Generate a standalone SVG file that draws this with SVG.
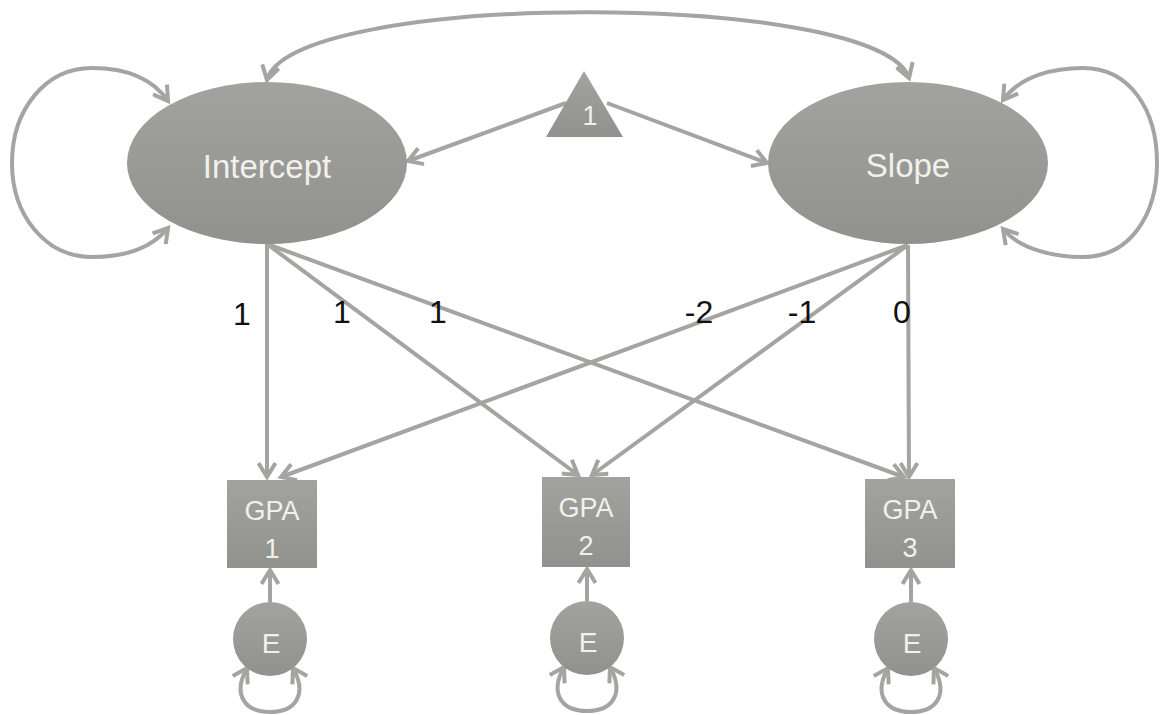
<svg xmlns="http://www.w3.org/2000/svg" width="1160" height="715" viewBox="0 0 1160 715">
  <style>
    .node { fill: url(#shade); }
    .lbl { font-family: "Liberation Sans", Arial, sans-serif; fill: #f1f1ec; text-anchor: middle; }
    .coef { font-family: "Liberation Sans", Arial, sans-serif; fill: #111; font-size: 32px; text-anchor: middle; }
    .edge { fill: none; stroke: #a4a4a0; stroke-width: 4; }
    .one { marker-end: url(#head); }
    .two { marker-start: url(#head); marker-end: url(#head); }
  </style>
  <defs>
    <linearGradient id="shade" x1="0" y1="0" x2="0" y2="1">
      <stop offset="0" stop-color="#a2a29e"/>
      <stop offset="1" stop-color="#91918d"/>
    </linearGradient>
    <marker id="head" viewBox="0 0 20 20" markerWidth="20" markerHeight="20" refX="16" refY="10" markerUnits="userSpaceOnUse" orient="auto-start-reverse">
      <path d="M2,1.5 L16,10 L2,18.5" fill="none" stroke="#a4a4a0" stroke-width="4" stroke-linejoin="miter"/>
    </marker>
  </defs>

  <rect width="1160" height="715" fill="#ffffff"/>

  <g id="connectors">
    <!-- covariance between the growth factors -->
    <path class="edge two" d="M267,80 C290,-10 880,-10 909,78"/>
    <!-- variances of the growth factors -->
    <path class="edge two" d="M168,101 C150,75 120,68 92,68 C45,68 12,110 12,163 C12,215 45,257 92,257 C120,257 150,250 168,228"/>
    <path class="edge two" d="M1003,100 C1021,75 1055,68 1083,68 C1130,68 1157,110 1157,163 C1157,215 1130,257 1083,257 C1055,257 1021,250 1003,229"/>
    <!-- constant to means -->
    <path class="edge one" d="M566,103 L408,161"/>
    <path class="edge one" d="M607,103 L767,163"/>
    <!-- intercept loadings -->
    <path class="edge one" d="M267,244 L267,477"/>
    <path class="edge one" d="M267,244 L578,475"/>
    <path class="edge one" d="M267,244 L904,477"/>
    <!-- slope loadings -->
    <path class="edge one" d="M908,245 L281,477"/>
    <path class="edge one" d="M908,245 L592,475"/>
    <path class="edge one" d="M908,245 L909,477"/>
    <!-- residuals -->
    <path class="edge one" d="M270,602 L270,570"/>
    <path class="edge one" d="M587,601 L587,569"/>
    <path class="edge one" d="M911,602 L911,570"/>
    <path class="edge two" d="M247,668 C232,695 245,712 270,712 C295,712 308,695 293,668"/>
    <path class="edge two" d="M564,667 C549,694 562,711 587,711 C612,711 625,694 610,667"/>
    <path class="edge two" d="M888,668 C873,695 886,712 911,712 C936,712 949,695 934,668"/>
  </g>

  <g id="coefficients">
    <text class="coef" x="242" y="325">1</text>
    <text class="coef" x="342" y="323">1</text>
    <text class="coef" x="438" y="323">1</text>
    <text class="coef" x="699" y="323">-2</text>
    <text class="coef" x="802" y="323">-1</text>
    <text class="coef" x="902" y="323">0</text>
  </g>

  <g id="intercept">
    <ellipse class="node" cx="267" cy="163" rx="140" ry="81"/>
    <text class="lbl" x="267" y="178" font-size="33">Intercept</text>
  </g>
  <g id="slope">
    <ellipse class="node" cx="908" cy="163" rx="140" ry="81"/>
    <text class="lbl" x="908" y="177" font-size="33">Slope</text>
  </g>
  <g id="constant">
    <polygon class="node" points="584,71 623,137 546,137"/>
    <text class="lbl" x="590" y="125" font-size="27">1</text>
  </g>

  <g id="gpa1">
    <rect class="node" x="227" y="480" width="90" height="88"/>
    <text class="lbl" x="272" y="520" font-size="27">GPA</text>
    <text class="lbl" x="272" y="558" font-size="27">1</text>
  </g>
  <g id="gpa2">
    <rect class="node" x="542" y="477" width="88" height="90"/>
    <text class="lbl" x="586" y="517" font-size="27">GPA</text>
    <text class="lbl" x="586" y="555" font-size="27">2</text>
  </g>
  <g id="gpa3">
    <rect class="node" x="865" y="479" width="90" height="89"/>
    <text class="lbl" x="910" y="519" font-size="27">GPA</text>
    <text class="lbl" x="910" y="557" font-size="27">3</text>
  </g>

  <g id="e1">
    <circle class="node" cx="270" cy="639" r="37"/>
    <text class="lbl" x="271" y="653" font-size="28">E</text>
  </g>
  <g id="e2">
    <circle class="node" cx="587" cy="638" r="37"/>
    <text class="lbl" x="588" y="652" font-size="28">E</text>
  </g>
  <g id="e3">
    <circle class="node" cx="911" cy="639" r="37"/>
    <text class="lbl" x="912" y="653" font-size="28">E</text>
  </g>
</svg>
